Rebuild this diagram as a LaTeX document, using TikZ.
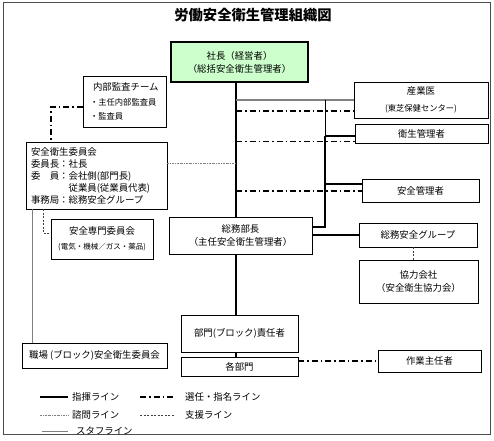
\documentclass[tikz,border=0pt]{standalone}
\usepackage{fontspec}
\setmainfont{Noto Sans CJK JP}
\newcommand\fsn{\fontsize{9.4}{13}\selectfont}
\newcommand\fss{\fontsize{7.5}{10}\selectfont}
\newcommand\fsm{\fontsize{8.3}{10}\selectfont}
\definecolor{presgreen}{HTML}{CCFFCC}
\tikzset{
 box/.style={draw=black, line width=0.6pt, fill=white, inner sep=0pt, align=center, font=\fsn},
 cmd/.style={line width=1.3pt, black},
 appoint/.style={line width=1.1pt, black, dash pattern=on 6pt off 3pt on 1.5pt off 3pt},
 consult/.style={line width=0.6pt, gray, dash pattern=on 2pt off 1pt on 0.6pt off 1pt},
 support/.style={line width=0.6pt, black!75, dash pattern=on 2pt off 1.5pt},
 staffl/.style={line width=0.8pt, gray},
 staffthick/.style={line width=1.2pt, gray},
 thinl/.style={line width=0.7pt, black},
 lbl/.style={font=\fsn, inner sep=0pt, anchor=west},
}
\begin{document}
\begin{tikzpicture}[x=1pt,y=-1pt]
\useasboundingbox (0,0) rectangle (494,440);
\draw[gray!60!black, line width=0.8pt] (3,2) rectangle (490,434);
\node[font=\bfseries\fontsize{14.3}{16}\selectfont, inner sep=0pt] (title) at (253,15) {労働安全衛生管理組織図};

% boxes
\node[box, fill=presgreen, line width=1.2pt, minimum width=137pt, minimum height=40pt] (pres) at (239.5,62) {社長（経営者）\\（総括安全衛生管理者）};
\node[box, align=left, text width=69pt, inner xsep=7pt, minimum height=51pt, font=\fontsize{9.4}{14.5}\selectfont] (audit) at (124.5,101.5) {\hspace*{3pt}内部監査チーム\\{\fsm ・主任内部監査員}\\{\fsm ・監査員}};
\node[box, align=left, text width=131pt, inner xsep=5pt, minimum height=67pt, font=\fontsize{9.4}{12}\selectfont] (committee) at (96.5,175.5) {安全衛生委員会\\委員長：社長\\委　員：会社側(部門長)\\\phantom{委　員：}従業員(従業員代表)\\事務局：総務安全グループ};
\node[box, minimum width=102pt, minimum height=40pt] (expert) at (102,239) {安全専門委員会\\[2pt]{\fss (電気・機械／ガス・薬品)}};
\node[box, minimum width=145pt, minimum height=25pt] (shokuba) at (94.5,355.5) {職場 (ブロック)安全衛生委員会};
\node[box, minimum width=134pt, minimum height=36pt] (sangyoi) at (421,100) {産業医\\[4pt]{\fsm (東芝保健センター)}};
\node[box, minimum width=133pt, minimum height=19pt] (eisei) at (421.5,133.5) {衛生管理者};
\node[box, minimum width=117pt, minimum height=23pt] (anzen) at (420.5,190.5) {安全管理者};
\node[box, minimum width=143pt, minimum height=37pt] (somu) at (240.5,235.5) {総務部長\\（主任安全衛生管理者）};
\node[box, minimum width=118pt, minimum height=24pt] (somuG) at (418,235) {総務安全グループ};
\node[box, minimum width=119pt, minimum height=43pt] (kyoryoku) at (418.5,281.5) {協力会社\\（安全衛生協力会）};
\node[box, minimum width=117pt, minimum height=37pt] (bumon) at (239.5,333.5) {部門(ブロック)責任者};
\node[box, minimum width=117pt, minimum height=19pt] (kaku) at (239.5,366.5) {各部門};
\node[box, minimum width=103pt, minimum height=22pt] (sagyo) at (429.5,361) {作業主任者};

% helper coordinates
\coordinate (mx) at (236,0);
\coordinate (rx) at (325,0);
\coordinate (d1) at (236,111);
\coordinate (j1) at (325,136);
\coordinate (d2) at (236,141.5);
\coordinate (j2) at (325,184);
\coordinate (d3) at (236,191);
\coordinate (j3) at (325,227);
\coordinate (kx) at (413,0);
\coordinate (c163) at (0,163);
\coordinate (ay) at (51,107);
\coordinate (sy) at (43,233);
\coordinate (sx) at (32,0);

% main command line
\draw[cmd] (pres.south -| mx) -- (somu.north -| mx);
\draw[cmd] (somu.south -| mx) -- (bumon.north -| mx);
\draw[cmd] (bumon.south -| mx) -- (kaku.north -| mx);

% right side
\draw[staffthick] (sangyoi.west -| mx) -- (sangyoi.west);
\draw[appoint] (d1) -- (d1 -| sangyoi.west);
\draw[thinl] (rx |- sangyoi.west) -- (j1);
\draw[cmd] (j1) -- (j1 -| eisei.west);
\draw[appoint] (d2) -- (d2 -| eisei.west);
\draw[cmd] (j2) -- (j2 -| anzen.west);
\draw[appoint] (d3) -- (d3 -| anzen.west);
\draw[cmd] (j1) -- (j3) -- (j3 -| somu.east);
\draw[cmd] (somuG.west -| somu.east) -- (somuG.west);
\draw[support] (somuG.south -| kx) -- (kyoryoku.north -| kx);
\draw[appoint] (sagyo.west -| kaku.east) -- (sagyo.west);

% left side
\draw[consult] (c163 -| committee.east) -- (c163 -| mx);
\draw[appoint] (audit.west |- ay) -- (ay) -- (ay |- committee.north);
\draw[support] (sy |- committee.south) -- (sy) -- (sy -| expert.west);
\draw[staffl] (sx |- committee.south) -- (sx |- shokuba.north);

% legend
\coordinate (l1a) at (40,397); \coordinate (l1b) at (68,397);
\coordinate (l2a) at (40,415); \coordinate (l2b) at (68,415);
\coordinate (l3a) at (42,431); \coordinate (l3b) at (68,431);
\coordinate (l4a) at (140,397); \coordinate (l4b) at (175,397);
\coordinate (l5a) at (140,415); \coordinate (l5b) at (175,415);
\draw[cmd] (l1a) -- (l1b);
\draw[consult] (l2a) -- (l2b);
\draw[staffl] (l3a) -- (l3b);
\draw[appoint] (l4a) -- (l4b);
\draw[support] (l5a) -- (l5b);
\node[lbl] (t1) at (72,397) {指揮ライン};
\node[lbl] (t2) at (72,415) {諮問ライン};
\node[lbl] (t3) at (76,431) {スタフライン};
\node[lbl] (t4) at (185,397) {選任・指名ライン};
\node[lbl] (t5) at (185,415) {支援ライン};
\end{tikzpicture}
\end{document}
